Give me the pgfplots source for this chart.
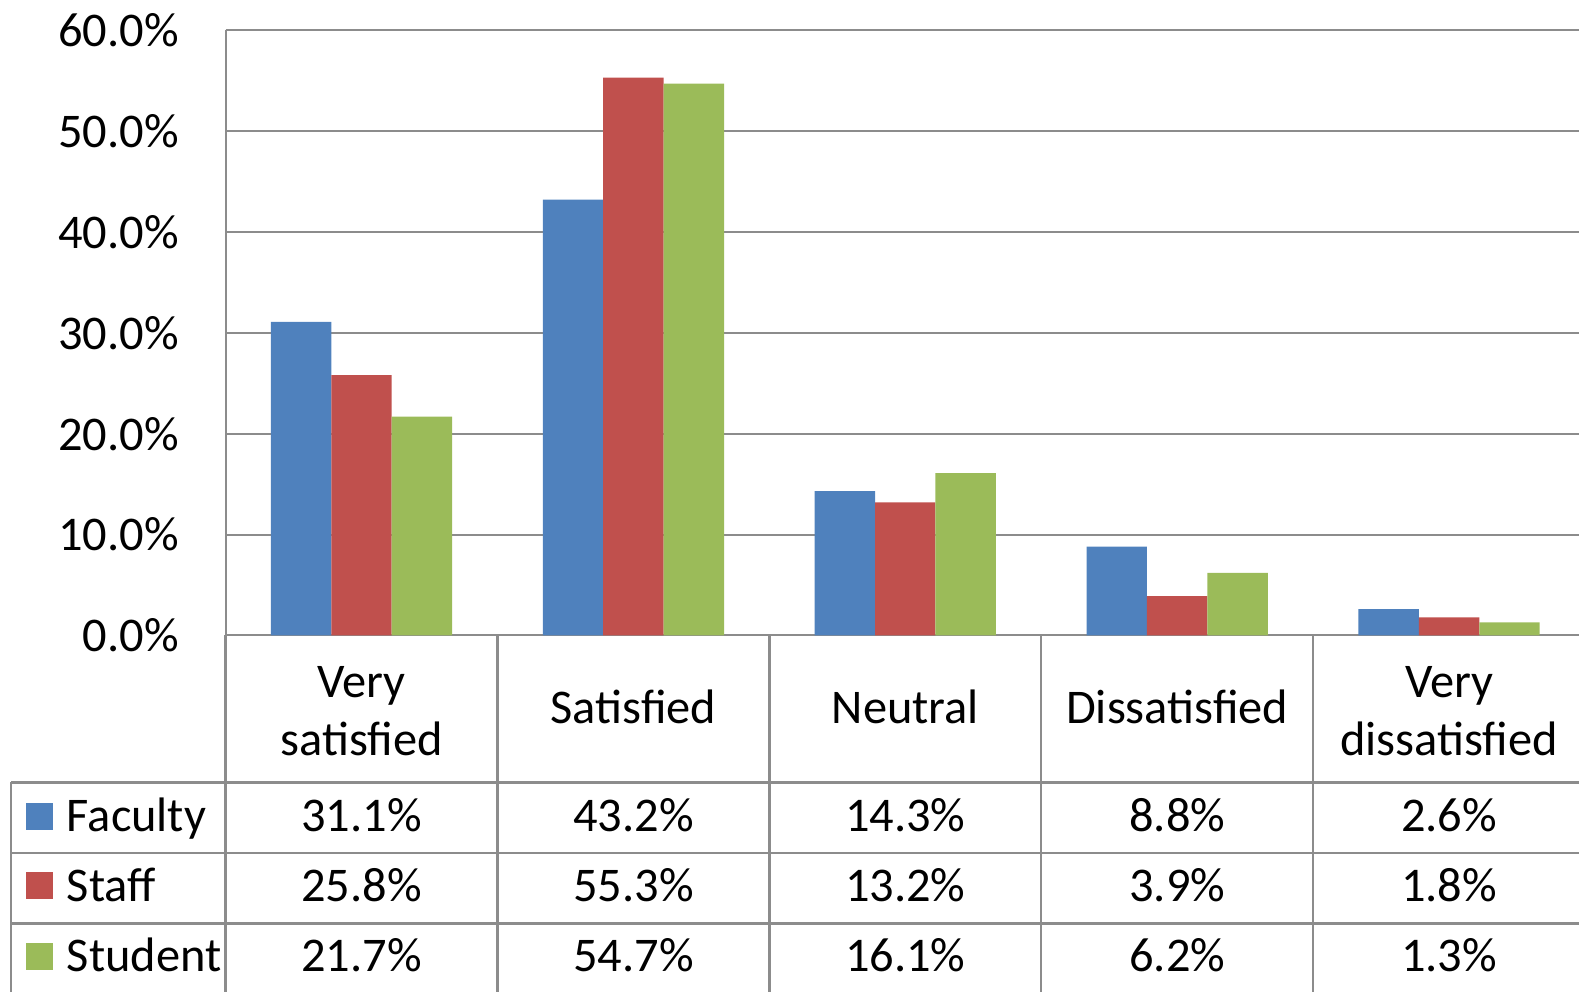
\documentclass[border=0pt]{standalone}
\usepackage{pgfplots}
\usepackage{pgfplotstable}
\pgfplotsset{compat=1.18}
\usepackage{fontspec}
\setmainfont{Carlito}

\definecolor{fac}{HTML}{4F81BD}
\definecolor{sta}{HTML}{C0504D}
\definecolor{stu}{HTML}{9BBB59}
\definecolor{linec}{HTML}{8C8C8C}

% satisfaction by group, in percent
\pgfplotstableread{
x fac sta stu
0 31.1 25.8 21.7
1 43.2 55.3 54.7
2 14.3 13.2 16.1
3 8.8 3.9 6.2
4 2.6 1.8 1.3
}\data

\newcommand{\chartfont}{\fontsize{24.2}{30}\selectfont}

\begin{document}
\begin{tikzpicture}
\begin{axis}[
  at={(112.79pt,-317.72pt)}, anchor=south west,
  scale only axis, width=679.7pt, height=302.6pt,
  xmin=-0.5, xmax=4.5, ymin=0, ymax=60,
  ybar=0pt, bar width=0.2222,
  xtick=\empty,
  ytick={0,10,...,60},
  yticklabel={\pgfmathprintnumber[fixed,fixed zerofill,precision=1]{\tick}\%},
  /pgf/number format/assume math mode=true,
  yticklabel style={anchor=east, inner sep=0pt, xshift=-23.2pt, font=\chartfont},
  axis lines*=left,
  axis line style={linec, line width=1pt, -},
  major tick length=0pt,
  ymajorgrids, grid style={linec, line width=1pt},
  clip=false,
]
\addplot[fill=fac, draw=none] table[x=x,y=fac]{\data};
\addplot[fill=sta, draw=none] table[x=x,y=sta]{\data};
\addplot[fill=stu, draw=none] table[x=x,y=stu]{\data};
\end{axis}

\begin{scope}[x=0.50351pt,y=-0.50351pt]
  % data table grid
  \draw[linec, line width=1.2pt] (11,777) -- (1568,777) (11,847) -- (1568,847) (11,917) -- (1568,917);
  \draw[linec, line width=1.2pt] (11,777) -- (11,985);
  \foreach \xx in {224,494,764,1034,1304} \draw[linec, line width=1.2pt] (\xx,631) -- (\xx,985);
  % header
  \node[anchor=base, font=\chartfont] at (359,693) {Very};
  \node[anchor=base, font=\chartfont] at (359,750) {satisfied};
  \node[anchor=base, font=\chartfont] at (629,718) {Satisfied};
  \node[anchor=base, font=\chartfont] at (899,718) {Neutral};
  \node[anchor=base, font=\chartfont] at (1169,718) {Dissatisfied};
  \node[anchor=base, font=\chartfont] at (1439,693) {Very};
  \node[anchor=base, font=\chartfont] at (1439,750) {dissatisfied};
  % legend keys
  \foreach \c/\n/\yb in {fac/Faculty/826, sta/Staff/895, stu/Student/965} {
    \fill[\c] (26,\yb-29) rectangle (53,\yb-2);
    \node[anchor=base west, inner sep=0pt, font=\chartfont] at (66,\yb) {\n};
  }
  % values
  \foreach \r in {0,...,4} {
    \foreach \c/\yb in {fac/826, sta/895, stu/965} {
      \pgfplotstablegetelem{\r}{\c}\of\data
      \node[anchor=base, inner sep=0pt, font=\chartfont] at (359+270*\r,\yb) {\pgfplotsretval\%};
    }
  }
  \pgfresetboundingbox
  \path[use as bounding box] (0,0) rectangle (1568,985);
\end{scope}
\end{tikzpicture}
\end{document}
